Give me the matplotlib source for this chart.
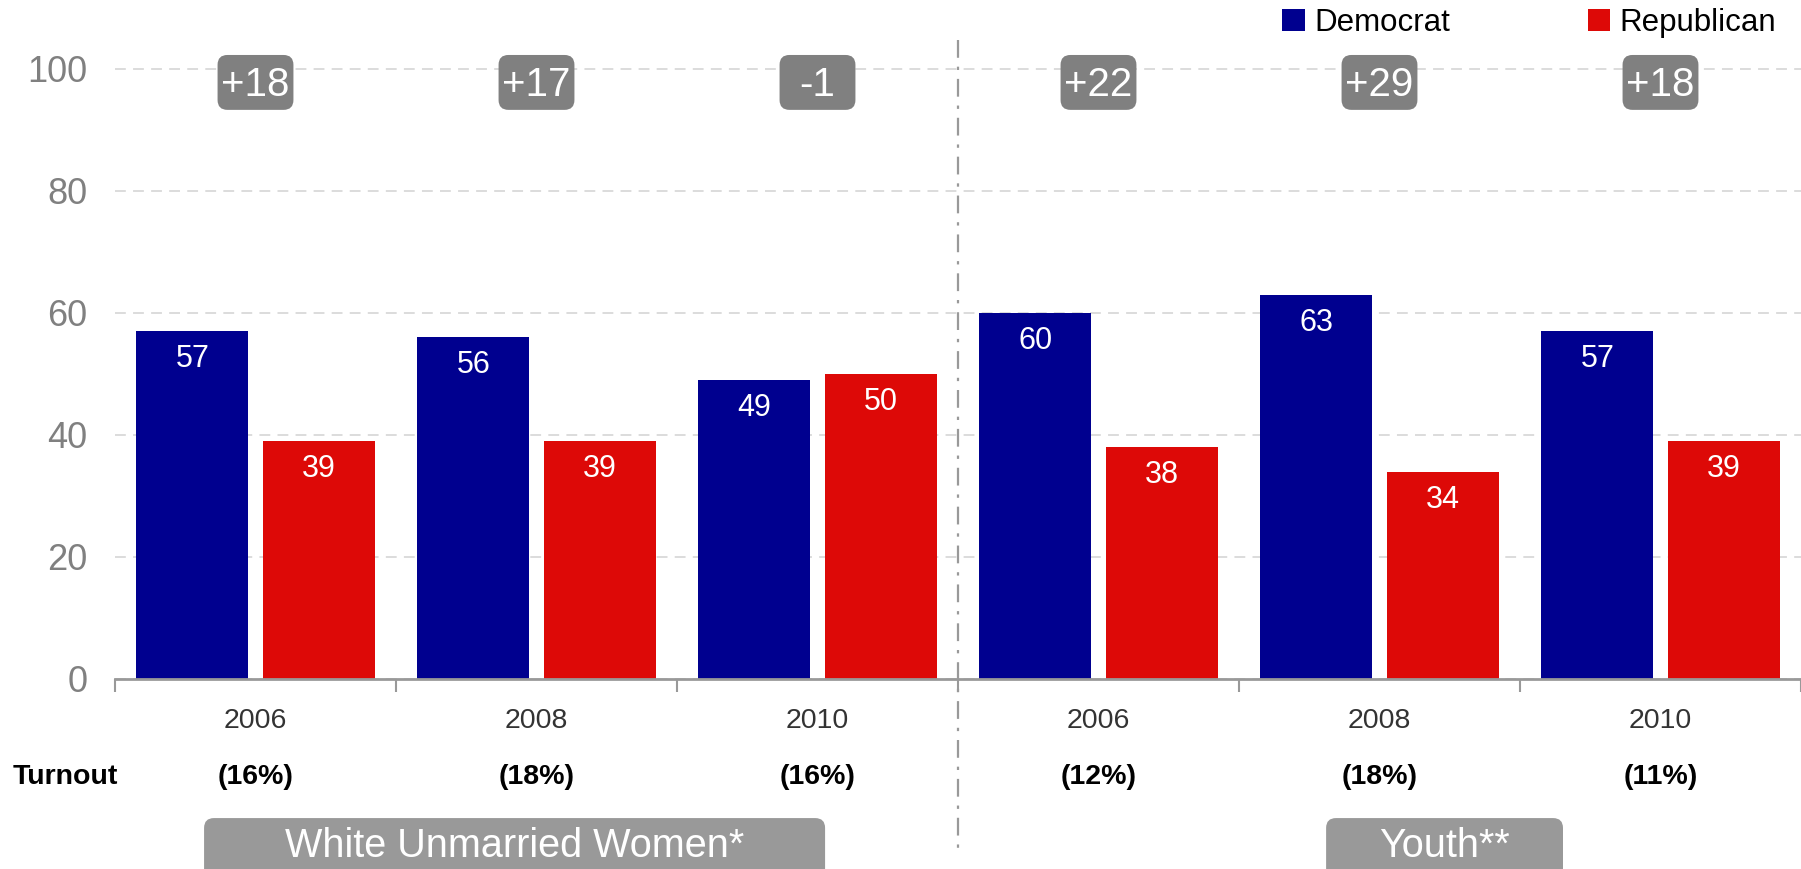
import numpy as np
import matplotlib.pyplot as plt
from matplotlib.patches import FancyBboxPatch

plt.rcParams['font.family'] = ['Liberation Sans', 'DejaVu Sans']

years = ['2006', '2008', '2010', '2006', '2008', '2010']
democrat = [57, 56, 49, 60, 63, 57]
republican = [39, 39, 50, 38, 34, 39]
margins = ['+18', '+17', '-1', '+22', '+29', '+18']
turnout = ['(16%)', '(18%)', '(16%)', '(12%)', '(18%)', '(11%)']
groups = ['White Unmarried Women*', 'Youth**']

blue = '#00008f'
red = '#dd0907'

fig = plt.figure(figsize=(18.01, 8.69), dpi=100)
ax = fig.add_axes([115 / 1801, 1 - 679 / 869, 1 - 115 / 1801, 679 / 869])
ymax = 679 / 6.1
ax.set_xlim(0, 6)
ax.set_ylim(0, ymax)

x = np.arange(6)
w = 0.4
ax.bar(x + 0.075, democrat, w, align='edge', color=blue, zorder=3, label='Democrat')
ax.bar(x + 0.525, republican, w, align='edge', color=red, zorder=3, label='Republican')

for i in range(6):
    ax.text(i + 0.275, democrat[i] - 4.6, str(democrat[i]), color='white',
            fontsize=22, ha='center', va='center', zorder=4)
    ax.text(i + 0.725, republican[i] - 4.6, str(republican[i]), color='white',
            fontsize=22, ha='center', va='center', zorder=4)

# aspect for rounded corners in data coords
aspect = (ymax / (679 / 869 * 8.69)) / (6 / ((1 - 115 / 1801) * 18.01))

for i in range(6):
    bw, bh = 0.27, 9.0
    box = FancyBboxPatch((i + 0.5 - bw / 2, 97.8 - bh / 2), bw, bh,
                         boxstyle='round,pad=0,rounding_size=0.035',
                         mutation_aspect=aspect, fc='#808080', ec='none', zorder=4)
    ax.add_patch(box)
    ax.text(i + 0.5, 97.3, margins[i], color='white', fontsize=29,
            ha='center', va='center', zorder=5)
    ax.text(i + 0.5, -6.9, years[i], color='#333333', fontsize=20.5,
            ha='center', va='center', clip_on=False)
    ax.text(i + 0.5, -16.0, turnout[i], color='black', fontsize=20.5,
            fontweight='bold', ha='center', va='center', clip_on=False)

ax.text(-0.178, -16.0, 'Turnout', color='black', fontsize=20.5,
        fontweight='bold', ha='center', va='center', clip_on=False)

# group label boxes
for (x0, x1), name in zip([(0.317, 2.527), (4.31, 5.153)], groups):
    box = FancyBboxPatch((x0, -40), x1 - x0, 40 - 22.8,
                         boxstyle='round,pad=0,rounding_size=0.035',
                         mutation_aspect=aspect, fc='#999999', ec='none',
                         clip_on=False, zorder=4)
    ax.add_patch(box)
    ax.text((x0 + x1) / 2, -27.4, name, color='white', fontsize=28.5,
            ha='center', va='center', clip_on=False, zorder=5)

# divider
ax.plot([3, 3], [104.8, -29], color='#999999', lw=1.6, ls=(0, (8, 4, 1.5, 4)),
        clip_on=False, zorder=2)

ax.set_yticks([0, 20, 40, 60, 80, 100])
ax.tick_params(axis='y', length=0, pad=20, labelsize=26, labelcolor='#808080')
ax.set_xticks(np.arange(7))
ax.set_xticklabels([])
ax.tick_params(axis='x', length=9, width=1.5, color='#999999', direction='out')
ax.grid(axis='y', color='#d9d9d9', ls=(0, (6, 4)), lw=1.3, zorder=0)
for s in ['left', 'right', 'top']:
    ax.spines[s].set_visible(False)
ax.spines['bottom'].set_color('#999999')
ax.spines['bottom'].set_linewidth(2)
ax.spines['bottom'].set_zorder(4)

fig.legend(loc='upper right', bbox_to_anchor=(1776 / 1801, 1 - 8 / 869), ncol=2,
           frameon=False, fontsize=22.5, handlelength=0.72, handleheight=0.72,
           handletextpad=0.3, columnspacing=4.4, borderpad=0, borderaxespad=0)

fig.savefig('out.png', dpi=100)
